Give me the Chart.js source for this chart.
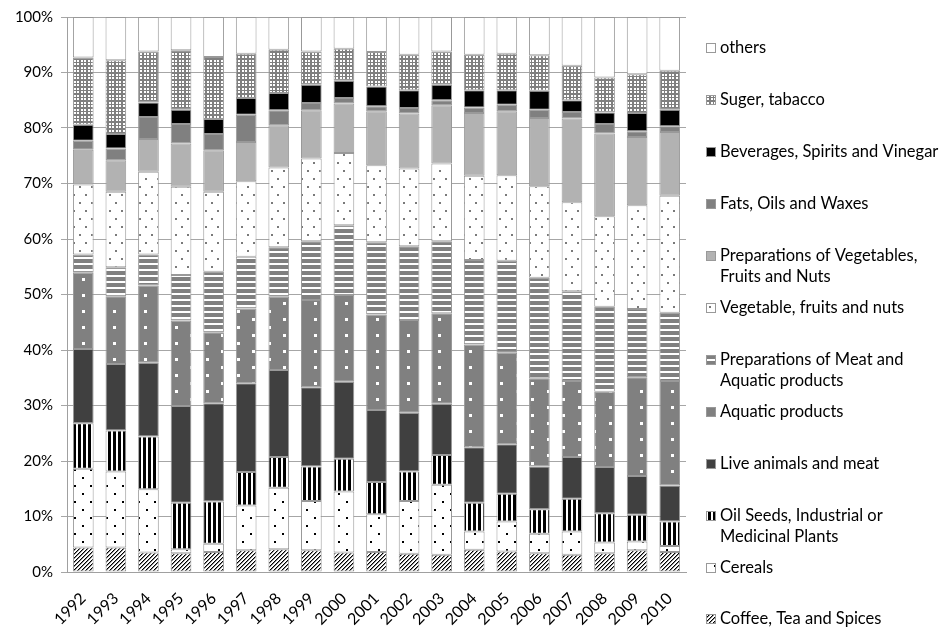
<!DOCTYPE html>
<html><head><meta charset="utf-8">
<script src="https://cdn.jsdelivr.net/npm/chart.js@4.4.1/dist/chart.umd.min.js"></script>
<style>html,body{margin:0;padding:0;background:#fff;}canvas{display:block;}</style>
</head><body>
<canvas id="c" width="941" height="631"></canvas>
<script>
const years = ['1992','1993','1994','1995','1996','1997','1998','1999','2000','2001','2002','2003','2004','2005','2006','2007','2008','2009','2010'];
const yTicks = [0,10,20,30,40,50,60,70,80,90,100];

const coffee   = [4.4,4.4,3.5,3.4,3.6,3.9,4.1,3.9,3.5,3.6,3.3,3.1,4.0,3.7,3.4,3.1,3.4,3.9,3.6];
const cereals  = [14.2,13.7,11.4,0.7,1.5,8.1,11.1,8.9,11.0,6.8,9.5,12.6,3.3,5.4,3.5,4.2,1.9,1.6,1.1];
const oilSeeds = [8.2,7.4,9.5,8.4,7.6,6.0,5.5,6.2,5.9,5.8,5.3,5.4,5.2,5.0,4.4,5.9,5.3,4.8,4.4];
const live     = [13.4,12.0,13.3,17.4,17.7,16.0,15.7,14.3,13.9,13.0,10.6,9.2,10.0,8.9,7.7,7.5,8.3,7.0,6.5];
const aquatic  = [13.7,12.2,13.9,15.4,12.8,13.5,13.2,15.7,15.6,17.2,16.7,16.3,18.5,16.5,15.9,13.7,13.6,17.8,18.8];
const prepMeat = [3.3,5.2,5.6,8.2,10.9,9.3,8.9,10.6,12.6,13.0,13.3,13.0,15.2,16.6,18.1,16.2,15.3,12.3,12.3];
const vegFruit = [12.6,13.6,14.9,15.9,14.4,13.6,14.4,14.9,13.0,13.9,14.0,14.0,15.2,15.4,16.5,16.0,16.3,18.7,21.1];
const prepVeg  = [6.3,5.7,5.9,7.8,7.5,7.1,7.6,8.7,8.9,9.7,9.9,10.5,11.3,11.5,12.3,15.1,14.9,12.3,11.5];
const fats     = [1.6,2.1,4.0,3.5,2.9,4.9,2.7,1.3,1.0,0.9,1.0,0.9,1.0,1.2,1.5,1.2,1.7,1.0,1.0];
const bever    = [2.9,2.6,2.6,2.6,2.7,3.0,3.1,3.3,3.1,3.6,3.2,2.8,3.1,2.6,3.4,2.1,2.1,3.3,3.0];
const sugar    = [12.1,13.3,9.2,10.7,11.2,8.0,7.8,6.0,5.8,6.2,6.4,6.0,6.4,6.6,6.4,6.2,6.3,7.0,7.0];
const others   = [7.3,7.8,6.2,6.0,7.2,6.6,5.9,6.2,5.7,6.3,6.8,6.2,6.8,6.6,6.9,8.8,10.9,10.3,9.7];

const seriesLabels = [
  'Coffee, Tea and Spices',
  'Cereals',
  'Oil Seeds, Industrial or\nMedicinal Plants',
  'Live animals and meat',
  'Aquatic products',
  'Preparations of Meat and\nAquatic products',
  'Vegetable, fruits and nuts',
  'Preparations of Vegetables,\nFruits and Nuts',
  'Fats, Oils and Waxes',
  'Beverages, Spirits and Vinegar',
  'Suger, tabacco',
  'others'
];
const seriesValues = [coffee,cereals,oilSeeds,live,aquatic,prepMeat,vegFruit,prepVeg,fats,bever,sugar,others];

// ---- patterns ----
function tile(w,h,bg,layers){
  const c=document.createElement('canvas');c.width=w;c.height=h;
  const x=c.getContext('2d');x.fillStyle=bg;x.fillRect(0,0,w,h);
  layers.forEach(([fg,cells])=>{
    x.fillStyle=fg;
    cells.forEach(([px,py,sw,sh])=>{
      for(const dx of [0,-w]) for(const dy of [0,-h]) x.fillRect(px+dx,py+dy,sw,sh);
    });
  });
  return x.createPattern(c,'repeat');
}
const pCoffee = tile(4,4,'#ffffff',[
  ['#000000',[[3,0,1,1],[2,1,1,1],[1,2,1,1],[0,3,1,1]]],
  ['#8a8a8a',[[0,0,1,1],[3,1,1,1],[2,2,1,1],[1,3,1,1]]]
]);
const pCereal = tile(16,16,'#ffffff',[['#000000',[[2,13,2,2],[10,5,2,2]]]]);
const pOil    = tile(5,1,'#ffffff',[['#000000',[[3,0,3,1]]]]);
const pAqua   = tile(31,16,'#808080',[['#ffffff',[[20,6,3,3],[4,14,3,3]]]]);
const pPMeat  = tile(1,6,'#808080',[['#ffffff',[[0,5,1,2]]]]);
const pVeg    = tile(12,16,'#ffffff',[['#7a7a7a',[[1,2,2,2],[7,10,2,2]]]]);
const pSugar  = tile(7,7,'#7f7f7f',[['#ffffff',[[0,0,2,2],[4,0,2,2],[0,4,2,2],[4,4,2,2]]]]);
const fills = [pCoffee,pCereal,pOil,'#404040',pAqua,pPMeat,pVeg,'#b2b2b2','#808080','#000000',pSugar,'#ffffff'];

const FONT = 'Lato, "Open Sans", sans-serif';

const legendPlugin = {
  id:'sideLegend',
  afterDraw(chart){
    const ctx=chart.ctx; ctx.save();
    const ds=chart.data.datasets;
    ctx.font='16.5px '+FONT; ctx.textBaseline='middle'; ctx.textAlign='left';
    for(let k=0;k<ds.length;k++){
      const d=ds[ds.length-1-k];
      const cy=Math.round(47.9+k*51.96);
      ctx.fillStyle=d.backgroundColor; ctx.fillRect(706,cy-5,10,10);
      ctx.strokeStyle='#999999'; ctx.lineWidth=1; ctx.strokeRect(706.5,cy-4.5,9,9);
      ctx.fillStyle='#000000';
      d.label.split('\n').forEach((ln,i)=>ctx.fillText(ln,720,cy+i*21));
    }
    ctx.restore();
  }
};

const datasets = seriesValues.map((v,i)=>({
  label: seriesLabels[i],
  data: v,
  backgroundColor: fills[i],
  borderColor: '#999999',
  borderWidth: 1,
  borderSkipped: false,
  barPercentage: 0.635,
  categoryPercentage: 1.0
}));

new Chart(document.getElementById('c'),{
  type:'bar',
  data:{labels:years,datasets},
  plugins:[legendPlugin],
  options:{
    responsive:false, animation:false, devicePixelRatio:1,
    layout:{padding:{top:13,right:255,left:0,bottom:0}},
    plugins:{legend:{display:false},tooltip:{enabled:false}},
    scales:{
      x:{stacked:true,
        grid:{display:false},
        border:{display:true,color:'#a0a0a0'},
        ticks:{minRotation:45,maxRotation:45,color:'#000',font:{family:FONT,size:16},padding:9},
        afterFit(s){s.height=59;}
      },
      y:{stacked:true,min:0,max:100,
        grid:{color:'#a6a6a6',tickLength:6},
        border:{display:true,color:'#a0a0a0'},
        afterBuildTicks(s){s.ticks=yTicks.map(v=>({value:v}));},
        ticks:{color:'#000',font:{family:FONT,size:15},padding:8,callback:v=>v+'%'},
        afterFit(s){s.width=67;}
      }
    }
  }
});
</script>
</body></html>
